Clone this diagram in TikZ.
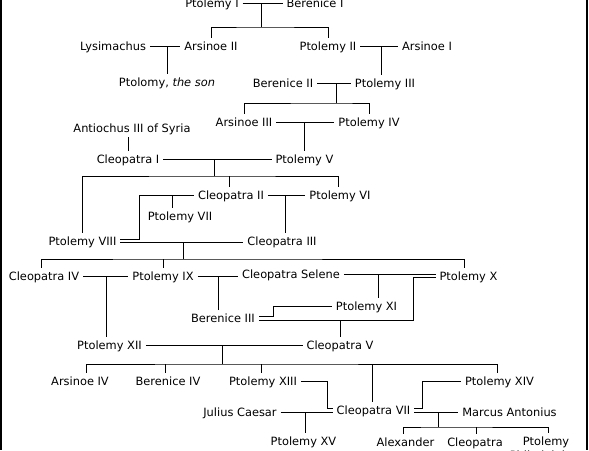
\documentclass[tikz,border=0pt]{standalone}
\usepackage{fontspec}
\setmainfont{DejaVu Sans}
\begin{document}
\begin{tikzpicture}[x=1pt, y=-1pt, line width=1pt,
  person/.style={inner xsep=3.5pt, inner ysep=4pt, text height=8pt, text depth=0pt,
    font=\fontsize{11.4}{13}\selectfont}]
  \useasboundingbox (0,0) rectangle (589,450);
  \clip (0,0) rectangle (589,450);

  % --- 0. 枠 ---
  \draw[line width=1.5pt] (1,0) -- (1,450);
  \draw[line width=1.5pt] (587,0) -- (587,450);

  % --- 1. 人物 ---
  \node[person] (p1)   at (212,3)     {Ptolemy I};
  \node[person] (b1)   at (315,3)     {Berenice I};
  \node[person] (lys)  at (113,46)    {Lysimachus};
  \node[person] (a2)   at (211,46)    {Arsinoe II};
  \node[person] (p2)   at (328,46)    {Ptolemy II};
  \node[person] (a1)   at (427,46)    {Arsinoe I};
  \node[person] (pson) at (167,82)    {Ptolomy, \textit{the son}};
  \node[person] (b2)   at (283,83)    {Berenice II};
  \node[person] (p3)   at (385,83)    {Ptolemy III};
  \node[person] (a3)   at (244,122)   {Arsinoe III};
  \node[person] (p4)   at (369,122)   {Ptolemy IV};
  \node[person] (ant)  at (132,128)   {Antiochus III of Syria};
  \node[person] (c1)   at (128,159)   {Cleopatra I};
  \node[person] (p5)   at (304.5,159) {Ptolemy V};
  \node[person] (c2)   at (231,195)   {Cleopatra II};
  \node[person] (p6)   at (340,195)   {Ptolemy VI};
  \node[person] (p7)   at (180,216)   {Ptolemy VII};
  \node[person] (p8)   at (82.5,241)  {Ptolemy VIII};
  \node[person] (c3)   at (282,241)   {Cleopatra III};
  \node[person] (c4)   at (44,276)    {Cleopatra IV};
  \node[person] (p9)   at (163,276)   {Ptolemy IX};
  \node[person] (cs)   at (291,274.5) {Cleopatra Selene};
  \node[person] (p10)  at (468.5,276) {Ptolemy X};
  \node[person] (p11)  at (366.5,306) {Ptolemy XI};
  \node[person] (b3)   at (223,318.5) {Berenice III};
  \node[person] (p12)  at (109.5,345) {Ptolemy XII};
  \node[person] (c5)   at (340,345)   {Cleopatra V};
  \node[person] (a4)   at (80,381)    {Arsinoe IV};
  \node[person] (b4)   at (168,381)   {Berenice IV};
  \node[person] (p13)  at (263,381)   {Ptolemy XIII};
  \node[person] (p14)  at (499.5,381) {Ptolemy XIV};
  \node[person] (jc)   at (240,412)   {Julius Caesar};
  \node[person] (c7)   at (373.5,410) {Cleopatra VII};
  \node[person] (ma)   at (509.5,412) {Marcus Antonius};
  \node[person] (p15)  at (303.5,441) {Ptolemy XV};
  \node[person] (alex) at (405.5,442) {Alexander};
  \node[person] (cleo) at (475,442)   {Cleopatra};
  \node[person] (pph)  at (546,441)   {Ptolemy};
  \node[person] (phil) at (546,455)   {Philadelphus};

  % --- 2. 分岐点 ---
  \coordinate (k1)  at (261,27);
  \coordinate (k4)  at (336,103);
  \coordinate (k7)  at (214,176);
  \coordinate (t8)  at (139,195);
  \coordinate (k9)  at (183,259);
  \coordinate (t11) at (273,316.5);
  \coordinate (t10) at (413,277.5);
  \coordinate (u3)  at ([yshift=-2pt]b3.east);
  \coordinate (k13) at (222,364);
  \coordinate (t13) at (327,408);
  \coordinate (t14) at (422,381);
  \coordinate (k15) at (438,427);

  % --- 3. Ptolemy I, Berenice I ---
  \draw (p1.east) -- (b1.west);
  \draw (k1 |- p1.east) -- (k1);
  \draw (a2.north) |- (k1) -| (p2.north);

  % Lysimachus, Arsinoe II
  \draw (lys.east) -- (a2.west);
  \draw (pson.north) -- (pson.north |- lys.east);

  % Ptolemy II, Arsinoe I
  \draw (p2.east) -- (a1.west);
  \draw ([xshift=-4pt]p3.north) -- ([xshift=-4pt]p3.north |- p2.east);

  % --- 4. Berenice II, Ptolemy III ---
  \draw (b2.east) -- (p3.west);
  \draw (k4 |- b2.east) -- (k4);
  \draw (a3.north) |- (k4) -| (p4.north);

  % Arsinoe III, Ptolemy IV
  \draw (a3.east) -- (p4.west);
  \draw (p5.north) -- (p5.north |- a3.east);

  % Antiochus III
  \draw (c1.north) -- (c1.north |- ant.south);

  % --- 5. Cleopatra I, Ptolemy V ---
  \draw (c1.east) -- (p5.west);
  \draw (k7 |- c1.east) -- (k7);
  \draw (p8.north) |- (k7) -| ([xshift=-2pt]p6.north);
  \draw ([xshift=-2pt]c2.north) -- ([xshift=-2pt]c2.north |- k7);

  % Cleopatra II, Ptolemy VI
  \draw (c2.east) -- (p6.west);
  \draw ([xshift=3pt]c3.north) -- ([xshift=3pt]c3.north |- c2.east);

  % Ptolemy VIII (二重線)
  \draw ([yshift=1.5pt]p8.east) -| (t8) -- (c2.west);
  \draw ([xshift=-8pt]p7.north) -- ([xshift=-8pt]p7.north |- c2.west);
  \draw ([yshift=-1.5pt]p8.east) -- ([yshift=-1.5pt]c3.west);
  \draw (k9) -- ++(0,-17);
  \draw ([xshift=-3pt]c4.north) |- (k9) -| ([xshift=-4.5pt]p10.north);
  \draw (p9.north) -- (p9.north |- k9);

  % --- 6. Cleopatra IV, Ptolemy IX, Cleopatra Selene ---
  \draw (c4.east) -- (p9.west);
  \draw ([xshift=-3.5pt]p12.north) -- ([xshift=-3.5pt]p12.north |- c4.east);
  \draw (p9.east) -- (p9.east -| cs.west);
  \draw ([xshift=-5pt]b3.north) -- ([xshift=-5pt]b3.north |- p9.east);
  \draw (cs.east) -- ([yshift=1.5pt]p10.west);
  \draw ([xshift=11.5pt]p11.north) -- ([xshift=11.5pt]p11.north |- cs.east);

  % Berenice III (二重線)
  \draw (p11.west) -| (t11) -- ([yshift=2pt]b3.east);
  \draw (u3) -| (t10) -- ([yshift=-1.5pt]p10.west);
  \draw (c5.north) -- (c5.north |- u3);

  % --- 7. Ptolemy XII, Cleopatra V ---
  \draw (p12.east) -- (c5.west);
  \draw (k13 |- p12.east) -- (k13);
  \draw ([xshift=6pt]a4.north) |- (k13) -| ([xshift=-2.5pt]p14.north);
  \draw ([xshift=-3pt]b4.north) -- ([xshift=-3pt]b4.north |- k13);
  \draw ([xshift=-2pt]p13.north) -- ([xshift=-2pt]p13.north |- k13);
  \draw ([xshift=-1.5pt]c7.north) -- ([xshift=-1.5pt]c7.north |- k13);

  % --- 8. Cleopatra VII (二重線) ---
  \draw (p13.east) -| (t13) -- ([yshift=2pt]c7.west);
  \draw (jc.east) -- ([yshift=-2pt]c7.west);
  \draw ([xshift=1.5pt]p15.north) -- ([xshift=1.5pt]p15.north |- jc.east);
  \draw ([yshift=2pt]c7.east) -| (t14) -- (p14.west);
  \draw ([yshift=-2pt]c7.east) -- (ma.west);
  \draw (k15 |- ma.west) -- (k15);
  \draw ([xshift=-2.5pt]alex.north) |- (k15) -| ([xshift=2pt]pph.north);
  \draw ([xshift=1pt]cleo.north) -- ([xshift=1pt]cleo.north |- k15);

\end{tikzpicture}
\end{document}
